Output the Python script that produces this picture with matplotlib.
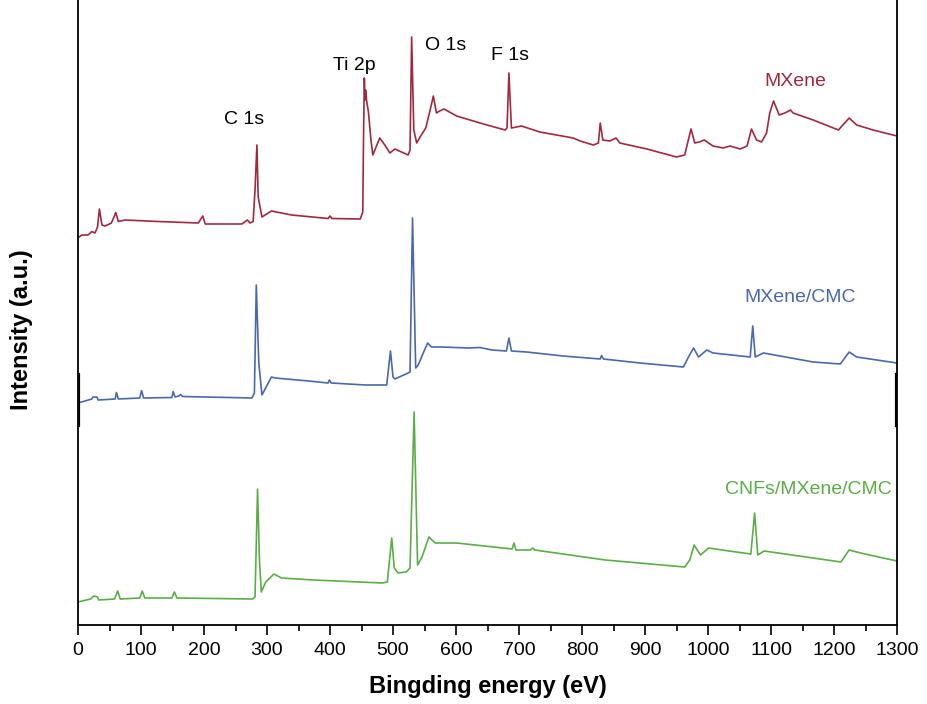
import matplotlib
matplotlib.use("Agg")
import matplotlib.pyplot as plt
from matplotlib.ticker import MultipleLocator

plt.rcParams["font.family"] = ["Liberation Sans", "DejaVu Sans"]

# binding energy (eV) / intensity (a.u.)
mx_energy = [0, 6, 16, 22, 27, 31, 34, 38, 43, 53, 60, 64, 75, 127, 191, 198, 202, 260, 269, 273,
             278, 281, 284, 286, 292, 307, 339, 397, 400, 403, 448, 452, 453, 454.5, 455.5, 456.5,
             458, 461, 465, 468, 479, 487, 495, 503, 524, 527, 529.6, 533, 537.6, 543, 552, 559,
             564, 569, 574, 581, 601, 638, 678, 681, 684, 688, 704, 733, 786, 797, 818, 826, 829,
             833, 844, 854, 860, 903, 950, 963, 973, 979, 986, 994, 1008, 1024, 1035, 1051, 1062,
             1069, 1077, 1085, 1093, 1098, 1104, 1113, 1122, 1131, 1135, 1167, 1207, 1224, 1236,
             1262, 1300]
mx_int = [387, 390, 390, 393.5, 392, 398, 416, 400, 399, 402, 412.5, 403.5, 405, 403.5, 402, 409,
          401, 401, 405, 402, 403.5, 435, 480, 428, 408, 414, 410, 406.5, 409, 406.5, 406, 413,
          475, 547, 525, 535, 525, 513, 485, 470, 487, 480, 472, 476, 470, 475, 588, 495, 482, 488,
          497, 515, 529, 512, 514, 516, 509, 502, 495, 497, 552, 497, 499, 493, 487, 484, 480, 482,
          502, 485, 484, 487, 482, 476, 468, 470, 496, 482, 483, 485, 479, 477, 479, 476, 479, 496,
          485, 483, 492, 512, 524, 510, 512, 515, 512, 505, 495, 507, 500, 495, 489]

cmc_energy = [0, 22, 24, 30, 32, 59, 61, 64, 98, 101, 104, 149, 151, 154, 160, 163, 166, 276, 280,
              283, 287, 292, 307, 313, 366, 397, 399, 402, 456, 490, 496, 500, 503, 524, 527, 531,
              536, 540, 548, 555, 561, 577, 620, 638, 657, 680, 684, 688, 712, 770, 829, 831, 834,
              892, 961, 969, 977, 985, 998, 1008, 1067, 1071, 1075, 1088, 1167, 1210, 1224, 1236,
              1300]
cmc_int = [222, 226, 228, 228, 225, 226, 232.5, 226, 227, 234.5, 227, 227.5, 233.5, 228, 229, 230.5,
           228.5, 227, 232, 340, 262, 230, 248, 247, 244, 242, 245, 242, 240, 240, 274, 248, 246,
           252, 253, 407, 257, 260, 272, 282, 278, 278, 277, 277.5, 275, 274, 287, 274, 273, 269,
           266, 269.5, 266, 262, 258, 268, 277, 268, 275, 272, 268, 299, 268, 272, 263, 261, 273,
           268, 262]

cnf_energy = [0, 20, 25, 31, 33, 58, 63, 67, 98, 102, 106, 149, 153, 157, 277, 281, 285, 288, 291,
              298, 311, 323, 374, 483, 491, 498, 502, 508, 521, 527, 533.5, 539, 546, 557, 567, 601,
              689, 692, 695, 718, 722, 725, 837, 963, 971, 978, 988, 1001, 1022, 1068, 1074, 1079,
              1089, 1211, 1224, 1236, 1249, 1300]
cnf_int = [23, 26, 29, 28, 25, 26, 34, 26, 27, 34, 27, 27, 33, 27, 26, 28, 136, 65, 33, 43, 51, 47,
           45, 42, 43, 87, 57, 52, 53, 57, 213, 60, 68, 88, 82, 82, 76, 82, 75, 75, 77, 75, 65, 58,
           65, 80, 70, 77, 75, 71, 112, 70, 74, 63, 75, 73, 71, 64]

red = "#A0293F"
blue = "#4B68AD"
green = "#5BAE47"

peak_labels = ["C 1s", "Ti 2p", "O 1s", "F 1s"]
peak_pos = [(263, 505), (438, 560), (584, 580), (686, 570)]

fig = plt.figure(figsize=(9.27, 7.04), dpi=100)
ax = fig.add_axes([78 / 927, 79 / 704, 819 / 927, 625 / 704])

ax.plot(mx_energy, mx_int, color=red, lw=1.2)
ax.plot(cmc_energy, cmc_int, color=blue, lw=1.2)
ax.plot(cnf_energy, cnf_int, color=green, lw=1.2)

for lab, (x, y) in zip(peak_labels, peak_pos):
    ax.text(x, y, lab, fontsize=14, ha="center", va="center", color="black")

ax.text(1138, 543, "MXene", fontsize=14, ha="center", va="center", color=red)
ax.text(1146, 328, "MXene/CMC", fontsize=14, ha="center", va="center", color=blue)
ax.text(1159, 136, "CNFs/MXene/CMC", fontsize=14, ha="center", va="center", color=green)

ax.set_xlim(0, 1300)
ax.set_ylim(0, 625)
ax.xaxis.set_major_locator(MultipleLocator(100))
ax.xaxis.set_minor_locator(MultipleLocator(50))
ax.tick_params(axis="x", which="major", direction="out", length=7, width=1.2, labelsize=14, pad=5)
ax.tick_params(axis="x", which="minor", direction="out", length=4, width=1.2)
ax.set_yticks([])

ax.spines["top"].set_visible(False)
for s in ["left", "right", "bottom"]:
    ax.spines[s].set_linewidth(1.3)

# thicker spine patches where the original panels were stitched
ax.axvline(0, ymin=0.32, ymax=0.4, color="black", lw=3)
ax.axvline(1300, ymin=0.32, ymax=0.4, color="black", lw=3)

ax.set_xlabel("Bingding energy (eV)", fontsize=17, fontweight="bold", labelpad=12)
fig.text(22 / 927, 1 - 330 / 704, "Intensity (a.u.)", fontsize=17, fontweight="bold",
         rotation=90, ha="center", va="center")

fig.savefig("out.png", dpi=100)
plt.close(fig)
